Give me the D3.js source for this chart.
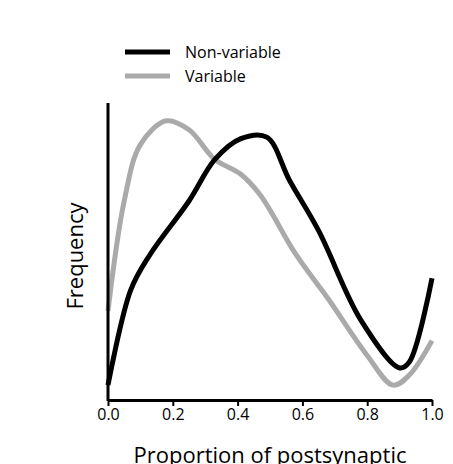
<!DOCTYPE html>
<html><head><meta charset="utf-8">
<script src="https://cdn.jsdelivr.net/npm/d3@7"></script>
<style>body{margin:0;background:#fff;font-family:"Open Sans",sans-serif;}</style>
</head><body><div id="chart"></div>
<script>
const xTicks = [0, 0.2, 0.4, 0.6, 0.8, 1.0];
const blackX = [0, 0.07, 0.13, 0.25, 0.33, 0.41, 0.49, 0.56, 0.65, 0.78, 0.9, 0.93, 1.0];
const blackY = [0.05, 0.37, 0.49, 0.67, 0.81, 0.88, 0.885, 0.74, 0.57, 0.27, 0.108, 0.128, 0.41];
const greyX = [0, 0.05, 0.1, 0.18, 0.25, 0.33, 0.41, 0.47, 0.58, 0.68, 0.8, 0.88, 0.93, 1.0];
const greyY = [0.30, 0.67, 0.86, 0.94, 0.91, 0.81, 0.76, 0.69, 0.49, 0.34, 0.15, 0.05, 0.084, 0.2];
const series = [
    { name: "Non-variable", color: "#000", xs: blackX, ys: blackY },
    { name: "Variable", color: "#aaa", xs: greyX, ys: greyY }
];

const svg = d3.select("#chart").append("svg").attr("width", 453).attr("height", 464);
const x = d3.scaleLinear().domain([0, 1]).range([108, 432]);
const y = d3.scaleLinear().domain([0, 1]).range([400, 103]);

const line = d3.line().curve(d3.curveCatmullRom.alpha(0.5))
    .x(d => x(d[0])).y(d => y(d[1]));

series.slice().reverse().forEach(s => {
    svg.append("path")
        .datum(s.xs.map((v, i) => [v, s.ys[i]]))
        .attr("fill", "none")
        .attr("stroke", s.color)
        .attr("stroke-width", 5)
        .attr("d", line);
});

// axes
const xa = svg.append("g").attr("transform", "translate(0,400)")
    .call(d3.axisBottom(x).tickValues(xTicks).tickFormat(d3.format(".1f")).tickSize(6).tickSizeOuter(0));
xa.select(".domain").attr("stroke-width", 3);
xa.selectAll(".tick line").attr("stroke-width", 2);
xa.selectAll("text").attr("font-size", 16).attr("font-family", "Open Sans").attr("fill", "#000");

svg.append("line").attr("x1", 108).attr("x2", 108).attr("y1", 103).attr("y2", 401)
    .attr("stroke", "#000").attr("stroke-width", 3);

svg.append("text").attr("x", 270).attr("y", 463).attr("text-anchor", "middle")
    .attr("font-size", 22).text("Proportion of postsynaptic");
svg.append("text").attr("transform", "translate(83,256) rotate(-90)").attr("text-anchor", "middle")
    .attr("font-size", 22).text("Frequency");

// legend
series.forEach((s, i) => {
    const ly = 52 + i * 24;
    svg.append("line").attr("x1", 125).attr("x2", 170).attr("y1", ly).attr("y2", ly)
        .attr("stroke", s.color).attr("stroke-width", 5);
    svg.append("text").attr("x", 185).attr("y", ly + 6).attr("font-size", 16).text(s.name);
});
</script></body></html>
